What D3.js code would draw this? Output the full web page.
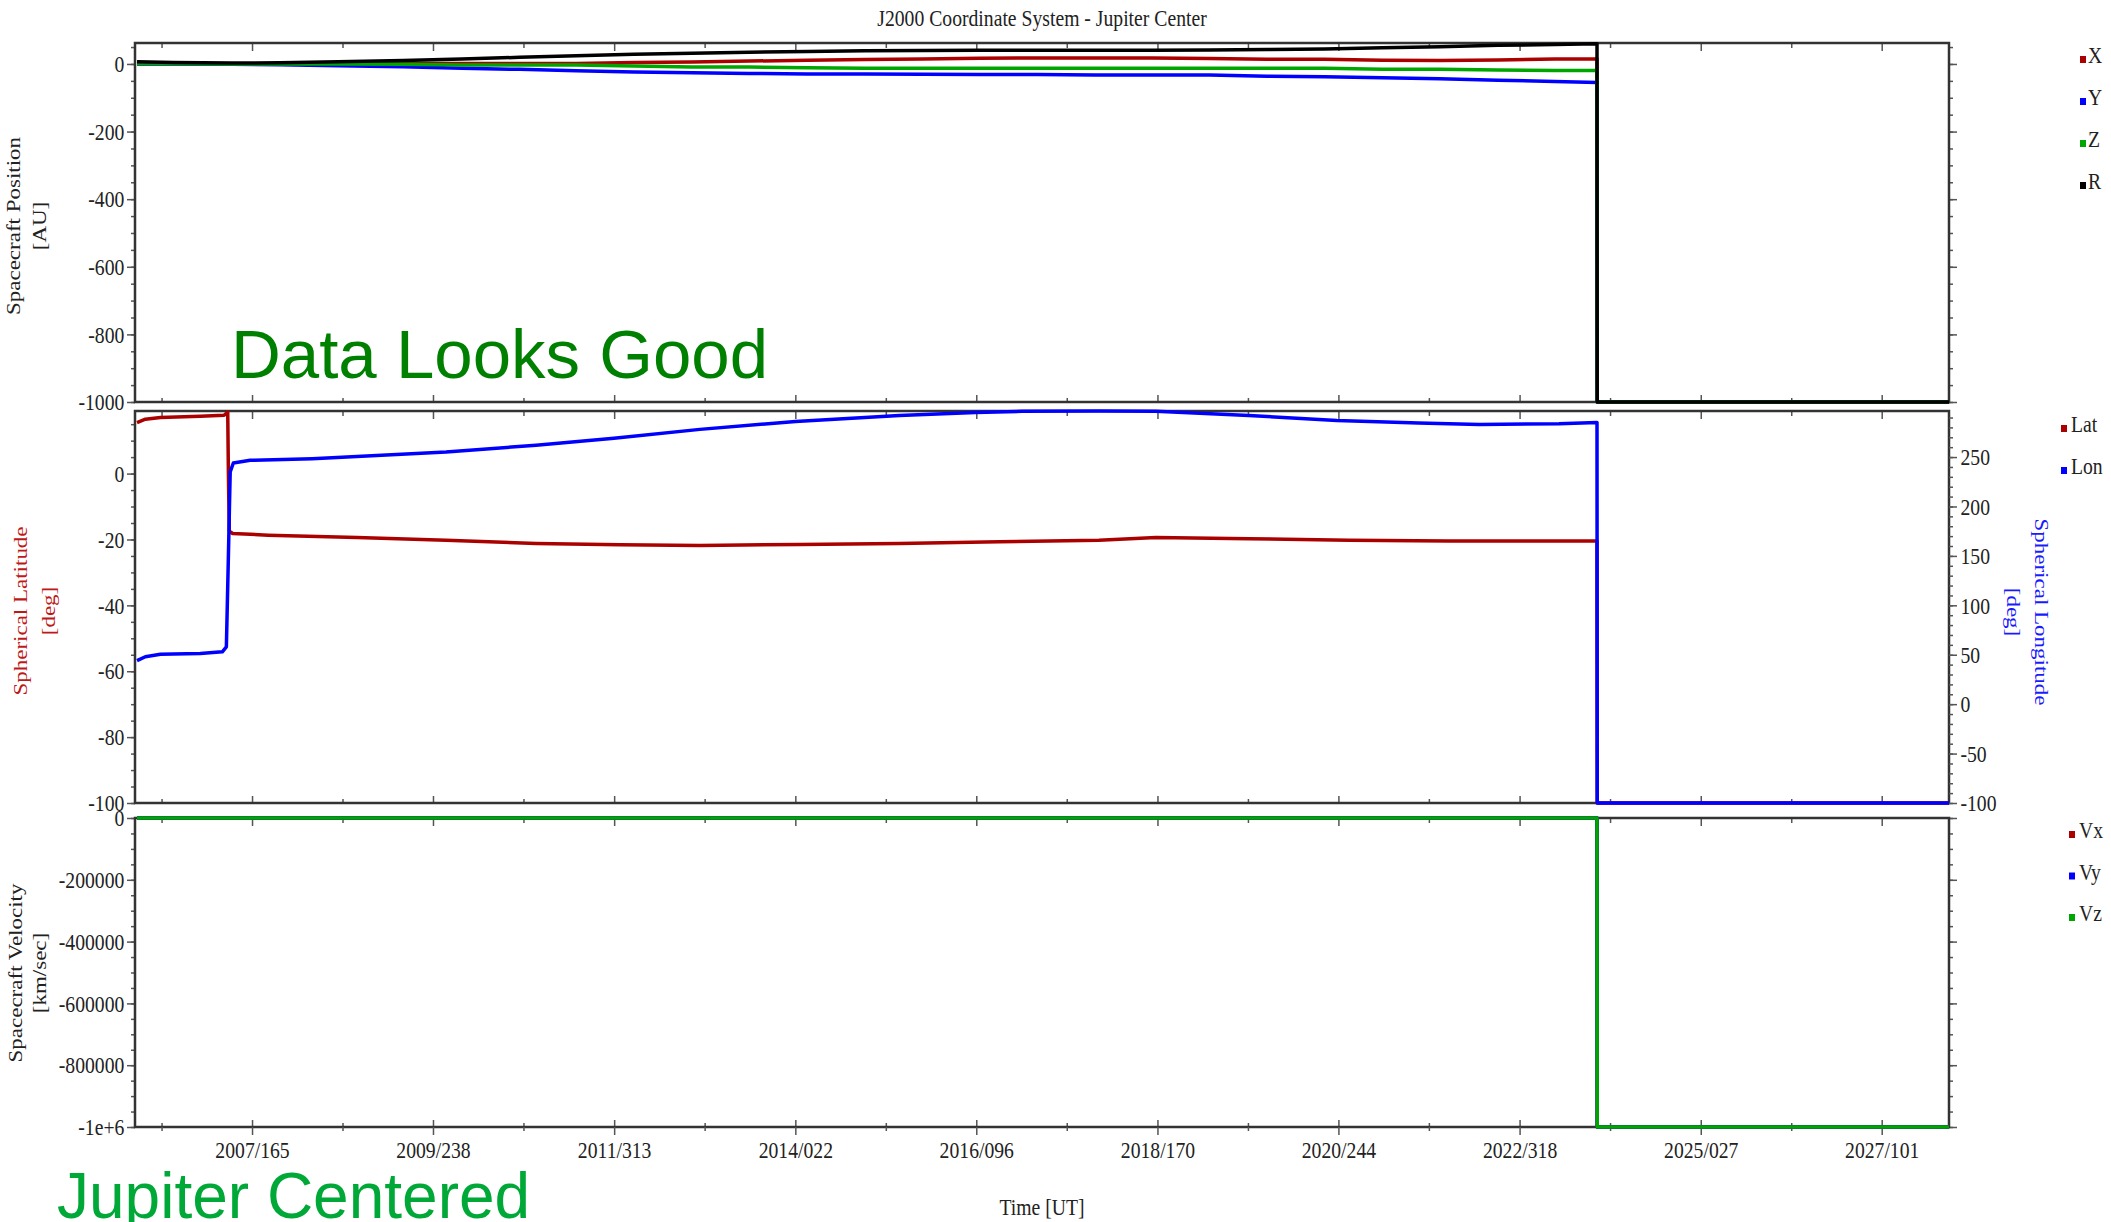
<!DOCTYPE html>
<html>
<head>
<meta charset="utf-8">
<script src="https://cdn.jsdelivr.net/npm/d3@7"></script>
<style>
  body { margin: 0; background: #fff; }
  svg { display: block; }
  text { font-family: 'Liberation Serif', 'Times New Roman', serif; }
  .axis path.domain { display: none; }
  .axis line { stroke: #555; stroke-width: 1.5px; }
  .axis text { font-size: 24px; fill: #222; }
  .frame { fill: none; stroke: #333; stroke-width: 2.5px; }
  .line { fill: none; stroke-width: 3.5px; stroke-linejoin: round; }
  .ytitle { font-size: 23px; }
  .legend text { font-size: 24px; fill: #222; }
  .stamp { font-family: 'Liberation Sans', Arial, sans-serif; }
</style>
</head>
<body>
<script>
var FILL = -1e31;

// time axis
var timeDomain = ['2006-01-10', '2028-02-04'];
var timeTickLabels = ['2007/165', '2009/238', '2011/313', '2014/022', '2016/096',
                      '2018/170', '2020/244', '2022/318', '2025/027', '2027/101'];

// spacecraft position, J2000 jupiter centered [AU]
var posDates = ['2006-01-19', '2006-07-01', '2007-03-15', '2007-10-15', '2008-07-01', '2009-04-15',
                '2010-01-01', '2010-09-15', '2011-05-25', '2012-02-05', '2012-10-20', '2013-07-01',
                '2014-03-15', '2014-11-25', '2015-08-10', '2016-04-20', '2017-01-01', '2017-09-15',
                '2018-05-25', '2019-02-05', '2019-10-20', '2020-07-01', '2021-03-15', '2021-11-25',
                '2022-08-10', '2023-04-20', '2023-10-24', '2023-10-25', '2028-02-04'];
var posX = [0.5, 0.5, 0, 0, 0, 1, 1.5, 1.5, 1.5, 4, 6, 8.5, 11, 13, 15, 17, 17.6, 17.6,
            17.6, 16, 14, 13.8, 11, 10, 12, 14.7, 14.7, FILL, FILL];
var posY = [0, 0, -1, -2, -5, -8, -12.5, -16, -20, -23.5, -26, -28, -29.5, -30, -30.5, -31, -31.5, -33,
            -33, -33, -36, -37.5, -41, -44, -48, -52, -55, FILL, FILL];
var posZ = [0.5, 0.5, 0, 0, 0, -1, -3, -3, -3, -6, -9, -9, -11, -13, -13, -13, -13, -13,
            -13, -13, -13, -13, -15.8, -16, -18, -19.7, -19.7, FILL, FILL];
var posR = [6.8, 4.5, 2.5, 3.5, 6.5, 10.5, 15, 19.5, 24.5, 28.5, 32, 35, 37, 39, 40, 40.5, 40.5, 40.5,
            40.5, 41, 43, 44.5, 48, 51, 55, 57.5, 59.5, FILL, FILL];
var posRange = [-1000, 62];
var posTicks = [-1000, -800, -600, -400, -200, 0];

// spherical latitude / longitude [deg]
var latDates = ['2006-01-19', '2006-02-25', '2006-05-03', '2006-10-27', '2007-02-10', '2007-02-26',
                '2007-03-01', '2007-03-05', '2007-03-20', '2007-08-25', '2008-09-23', '2009-10-23',
                '2010-11-27', '2011-12-05', '2012-11-24', '2014-02-10', '2015-04-29', '2016-07-16',
                '2017-10-02', '2018-06-12', '2019-07-30', '2020-10-16', '2022-01-02', '2023-10-24',
                '2023-10-25', '2028-02-04'];
var latValues = [15.5, 16.5, 17.0, 17.4, 17.7, 18.7, 0, -17.5, -18.2, -18.7, -19.4, -20.2,
                 -21.2, -21.6, -21.8, -21.5, -21.2, -20.7, -20.2, -19.4, -19.8, -20.2, -20.5, -20.5,
                 FILL, FILL];
var lonDates = ['2006-01-19', '2006-02-25', '2006-05-03', '2006-10-27', '2007-02-02', '2007-02-20',
                '2007-03-01', '2007-03-09', '2007-03-23', '2007-06-06', '2008-03-07', '2009-10-23',
                '2010-11-27', '2011-11-08', '2012-11-24', '2014-01-23', '2015-04-29', '2016-04-01',
                '2016-10-26', '2017-10-02', '2018-06-12', '2019-07-30', '2020-08-24', '2021-08-22',
                '2022-05-19', '2023-05-08', '2023-10-24', '2023-10-25', '2028-02-04'];
var lonValues = [44, 48, 50.5, 51.3, 53, 58, 150, 235, 244, 246.7, 248.4, 255,
                 262, 269, 278, 286, 292, 295, 296.3, 296.6, 296.3, 292, 287, 284.5,
                 283, 283.7, 285, FILL, FILL];
var latRange = [-100, 19];
var latTicks = [-100, -80, -60, -40, -20, 0];
var lonRange = [-100, 296.6];
var lonTicks = [-100, -50, 0, 50, 100, 150, 200, 250];

// spacecraft velocity [km/sec]
var velX = [-8.2, -6.5, 12.1, 11.4, 10.9, 10.5, 10.2, 9.9, 9.7, 9.5, 9.3, 9.1, 8.9, 8.7, 8.5, 8.3, 8.1, 7.9,
            7.7, 7.5, 7.3, 7.1, 6.9, 6.7, 6.5, 6.3, 6.1, FILL, FILL];
var velY = [-12.4, -11.8, -17.6, -16.2, -15.5, -15.0, -14.6, -14.2, -13.9, -13.6, -13.3, -13.0, -12.8, -12.6,
            -12.4, -12.2, -12.0, -11.8, -11.7, -11.6, -11.5, -11.4, -11.3, -11.2, -11.1, -11.0, -10.9, FILL, FILL];
var velZ = [-1.2, -1.0, -6.3, -5.9, -5.6, -5.4, -5.2, -5.1, -5.0, -4.9, -4.8, -4.7, -4.6, -4.5, -4.4, -4.3,
            -4.2, -4.2, -4.1, -4.1, -4.0, -4.0, -3.9, -3.9, -3.8, -3.8, -3.7, FILL, FILL];
var velRange = [-1e6, 0];
var velTicks = [-1e6, -800000, -600000, -400000, -200000, 0];
var velTickLabels = ['-1e+6', '-800000', '-600000', '-400000', '-200000', '0'];

var colors = { red: '#aa0000', blue: '#0000ff', green: '#00a600', black: '#000000' };

//layout
var W = 2111, H = 1222;
var plotLeft = 135, plotRight = 1949;
var boxes = [{ top: 43, bottom: 402 }, { top: 411, bottom: 803 }, { top: 818, bottom: 1127 }];
var squeeze = 'scale(0.82,1)';

var parseDay = d3.utcParse('%Y-%m-%d');
var parseDoy = d3.utcParse('%Y/%j');

// plain hyphen minus like the original plot
var plainNum = function(d) { return String(d); };

var svg = d3.select('body').append('svg')
    .attr('width', W)
    .attr('height', H);

var xTime = d3.scaleUtc()
    .domain(timeDomain.map(parseDay))
    .range([plotLeft, plotRight]);

var majorTimes = timeTickLabels.map(parseDoy);
var halfStep = (majorTimes[1] - majorTimes[0]) / 2;
var minorTimes = [new Date(+majorTimes[0] - halfStep)]
    .concat(majorTimes.map(function(d) { return new Date(+d + halfStep); }))
    .filter(function(d) { return d >= xTime.domain()[0] && d <= xTime.domain()[1]; });

function series(dates, values) {
  return dates.map(function(d, i) {
    return { date: parseDay(d), value: values[i] };
  });
}

function yScale(range, box) {
  return d3.scaleLinear().domain(range).range([box.bottom, box.top]).clamp(true);
}

function minorSteps(range, step) {
  return d3.range(Math.ceil(range[0] / step) * step, range[1] + 1e-9, step);
}

function squeezeText(g) {
  g.selectAll('text').attr('transform', squeeze);
}

// frame, time ticks top and bottom, y ticks both sides
function drawFrame(box, y, major, minor, fmt, rightAxis) {
  var g = svg.append('g');

  g.append('g').attr('class', 'axis')
      .attr('transform', 'translate(0,' + box.top + ')')
      .call(d3.axisTop(xTime).tickValues(majorTimes).tickSize(-8).tickFormat(''));
  g.append('g').attr('class', 'axis')
      .attr('transform', 'translate(0,' + box.top + ')')
      .call(d3.axisTop(xTime).tickValues(minorTimes).tickSize(-5).tickFormat(''));
  g.append('g').attr('class', 'axis')
      .attr('transform', 'translate(0,' + box.bottom + ')')
      .call(d3.axisBottom(xTime).tickValues(majorTimes).tickSize(-7).tickFormat(''));
  g.append('g').attr('class', 'axis')
      .attr('transform', 'translate(0,' + box.bottom + ')')
      .call(d3.axisBottom(xTime).tickValues(minorTimes).tickSize(-4).tickFormat(''));

  g.append('g').attr('class', 'axis')
      .attr('transform', 'translate(' + plotLeft + ',0)')
      .call(d3.axisLeft(y).tickValues(major).tickSize(8).tickPadding(5).tickFormat(fmt))
      .call(squeezeText);
  g.append('g').attr('class', 'axis')
      .attr('transform', 'translate(' + plotLeft + ',0)')
      .call(d3.axisLeft(y).tickValues(minor).tickSize(4).tickFormat(''));

  if (!rightAxis) {
    g.append('g').attr('class', 'axis')
        .attr('transform', 'translate(' + plotRight + ',0)')
        .call(d3.axisRight(y).tickValues(major).tickSize(8).tickFormat(''));
    g.append('g').attr('class', 'axis')
        .attr('transform', 'translate(' + plotRight + ',0)')
        .call(d3.axisRight(y).tickValues(minor).tickSize(4).tickFormat(''));
  }

  g.append('rect')
      .attr('class', 'frame')
      .attr('x', plotLeft)
      .attr('y', box.top)
      .attr('width', plotRight - plotLeft)
      .attr('height', box.bottom - box.top);
}

function drawLine(data, y, color) {
  var line = d3.line()
      .x(function(d) { return xTime(d.date); })
      .y(function(d) { return y(d.value); });
  svg.append('path')
      .datum(data)
      .attr('class', 'line')
      .attr('stroke', color)
      .attr('d', line);
}

function yTitle(lines, x, yc, color, angle) {
  lines.forEach(function(t, i) {
    svg.append('text')
        .attr('class', 'ytitle')
        .attr('text-anchor', 'middle')
        .style('fill', color)
        .attr('transform', 'translate(' + x[i] + ',' + yc + ') scale(0.86,1) rotate(' + angle + ')')
        .text(t);
  });
}

function legend(names, cols, sqX, txtX, y0, step) {
  var g = svg.append('g').attr('class', 'legend');
  names.forEach(function(n, i) {
    var base = y0 + i * step;
    g.append('rect')
        .attr('x', sqX).attr('y', base - 7)
        .attr('width', 6).attr('height', 7)
        .attr('fill', cols[i]);
    g.append('text')
        .attr('transform', 'translate(' + txtX + ',' + base + ') ' + squeeze)
        .text(n);
  });
}

// PANEL 1 position
var yPos = yScale(posRange, boxes[0]);
drawFrame(boxes[0], yPos, posTicks, minorSteps(posRange, 50), plainNum, false);
drawLine(series(posDates, posX), yPos, colors.red);
drawLine(series(posDates, posY), yPos, colors.blue);
drawLine(series(posDates, posZ), yPos, colors.green);
drawLine(series(posDates, posR), yPos, colors.black);
yTitle(['Spacecraft Position', '[AU]'], [20, 45.5], 226, '#222', -90);
legend(['X', 'Y', 'Z', 'R'], [colors.red, colors.blue, colors.green, colors.black], 2080, 2088, 63, 42);

// PANEL 2 spherical coords
var yLat = yScale(latRange, boxes[1]);
var yLon = yScale(lonRange, boxes[1]);
drawFrame(boxes[1], yLat, latTicks, minorSteps(latRange, 5), plainNum, true);
svg.append('g').attr('class', 'axis')
    .attr('transform', 'translate(' + plotRight + ',0)')
    .call(d3.axisRight(yLon).tickValues(lonTicks).tickSize(8).tickPadding(6).tickFormat(plainNum))
    .call(squeezeText);
svg.append('g').attr('class', 'axis')
    .attr('transform', 'translate(' + plotRight + ',0)')
    .call(d3.axisRight(yLon).tickValues(minorSteps(lonRange, 10)).tickSize(4).tickFormat(''));
drawLine(series(latDates, latValues), yLat, colors.red);
drawLine(series(lonDates, lonValues), yLon, colors.blue);
yTitle(['Spherical Latitude', '[deg]'], [26.5, 55], 611, '#c01818', -90);
yTitle(['Spherical Longitude', '[deg]'], [2035, 2006.5], 612, '#1a1aff', 90);
legend(['Lat', 'Lon'], [colors.red, colors.blue], 2061, 2071, 432, 42);

// PANEL 3 velocity
var yVel = yScale(velRange, boxes[2]);
drawFrame(boxes[2], yVel, velTicks, minorSteps(velRange, 50000),
    function(d) { return velTickLabels[velTicks.indexOf(d)]; }, false);
svg.append('g').attr('class', 'axis')
    .attr('transform', 'translate(0,' + boxes[2].bottom + ')')
    .call(d3.axisBottom(xTime).tickValues(majorTimes).tickSize(8).tickPadding(6)
        .tickFormat(d3.utcFormat('%Y/%j')))
    .call(squeezeText);
svg.append('g').attr('class', 'axis')
    .attr('transform', 'translate(0,' + boxes[2].bottom + ')')
    .call(d3.axisBottom(xTime).tickValues(minorTimes).tickSize(4).tickFormat(''));
drawLine(series(posDates, velX), yVel, colors.red);
drawLine(series(posDates, velY), yVel, colors.blue);
drawLine(series(posDates, velZ), yVel, colors.green);
yTitle(['Spacecraft Velocity', '[km/sec]'], [21.5, 45.5], 973, '#222', -90);
legend(['Vx', 'Vy', 'Vz'], [colors.red, colors.blue, colors.green], 2069, 2079, 838, 41.5);

// titles
var midX = (plotLeft + plotRight) / 2;
svg.append('text')
    .attr('text-anchor', 'middle')
    .attr('font-size', 24)
    .style('fill', '#222')
    .attr('transform', 'translate(' + midX + ',26) ' + squeeze)
    .text('J2000 Coordinate System - Jupiter Center');
svg.append('text')
    .attr('text-anchor', 'middle')
    .attr('font-size', 24)
    .style('fill', '#222')
    .attr('transform', 'translate(' + midX + ',1215) ' + squeeze)
    .text('Time [UT]');

// stamps
svg.append('text')
    .attr('class', 'stamp')
    .attr('x', 231).attr('y', 378)
    .attr('font-size', 69)
    .style('fill', '#008000')
    .text('Data Looks Good');
svg.append('text')
    .attr('class', 'stamp')
    .attr('x', 57).attr('y', 1218)
    .attr('font-size', 64)
    .style('fill', '#00a838')
    .text('Jupiter Centered');
</script>
</body>
</html>
